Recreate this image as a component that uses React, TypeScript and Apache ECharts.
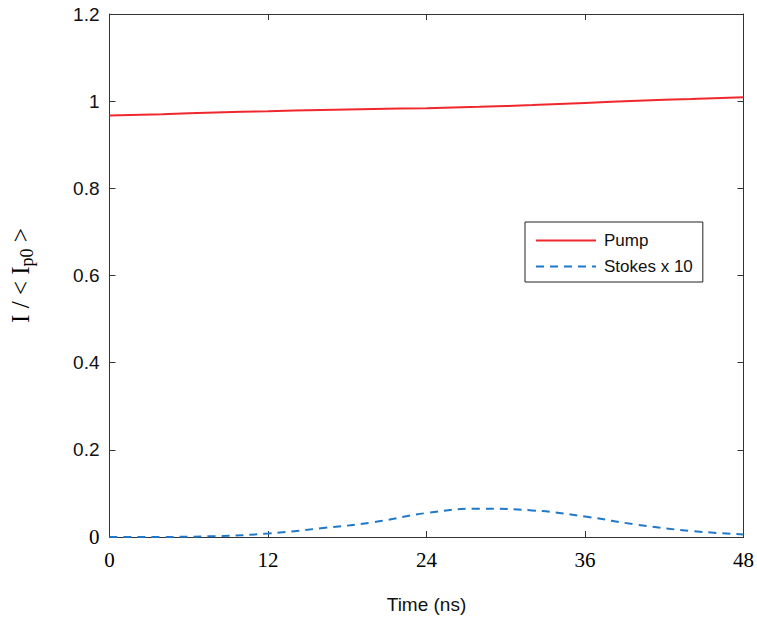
import React, { useEffect, useRef } from "react";
import * as echarts from "echarts";

const timeNs = [0, 4, 8, 12, 16, 20, 24, 28, 32, 36, 40, 44, 48];
const pump = [0.967, 0.970, 0.974, 0.977, 0.980, 0.982, 0.984, 0.987, 0.991, 0.996, 1.001, 1.005, 1.009];
const stokesX10 = [0, 0.0002, 0.002, 0.008, 0.02, 0.034, 0.055, 0.065, 0.061, 0.047, 0.028, 0.014, 0.006];
const yTicks = [0, 0.2, 0.4, 0.6, 0.8, 1, 1.2];

export default function App() {
  const ref = useRef<HTMLDivElement>(null);
  useEffect(() => {
    if (!ref.current) return;
    const chart = echarts.init(ref.current, null, { renderer: "svg" });
    const axisLine = () => ({ show: true, onZero: false, lineStyle: { color: "#333", width: 1 } });
    const axisTick = () => ({ show: true, inside: true, length: 6, lineStyle: { color: "#333", width: 1 } });
    chart.setOption({
      animation: false,
      backgroundColor: "#fff",
      grid: { left: 107, right: 9, top: 14, bottom: 85, containLabel: false },
      legend: {
        orient: "vertical",
        left: 525,
        top: 222,
        padding: [10, 10, 7, 10],
        itemGap: 9,
        itemWidth: 60,
        itemHeight: 16,
        borderColor: "#222",
        borderWidth: 1,
        backgroundColor: "#fff",
        itemStyle: { opacity: 0 },
        textStyle: { fontFamily: "Liberation Sans", fontSize: 17, color: "#111", padding: [0, 0, 0, 3] },
        data: ["Pump", "Stokes x 10"],
      },
      xAxis: [
        {
          type: "value",
          min: 0,
          max: 48,
          interval: 12,
          axisLine: axisLine(),
          axisTick: axisTick(),
          splitLine: { show: false },
          axisLabel: {
            margin: 12,
            fontFamily: "Liberation Serif",
            fontSize: 21,
            color: "#000",
          },
          name: "Time (ns)",
          nameLocation: "middle",
          nameGap: 58,
          nameTextStyle: { fontFamily: "Liberation Sans", fontSize: 19, color: "#111" },
        },
        {
          type: "value",
          position: "top",
          min: 0,
          max: 48,
          interval: 12,
          axisLine: axisLine(),
          axisTick: axisTick(),
          axisLabel: { show: false },
          splitLine: { show: false },
        },
      ],
      yAxis: [
        {
          type: "value",
          min: 0,
          max: 1.2,
          interval: 0.2,
          axisLine: axisLine(),
          axisTick: axisTick(),
          splitLine: { show: false },
          axisLabel: {
            margin: 10,
            fontFamily: "Liberation Sans",
            fontSize: 19,
            color: "#111",
            formatter: (v: number) => {
              const t = yTicks.find((y) => Math.abs(y - v) < 1e-6);
              if (t === undefined) return "";
              return t === 0 ? "{s|0}" : String(t);
            },
            rich: { s: { fontFamily: "Liberation Serif", fontSize: 21, color: "#000" } },
          },
          name: "{a|I / < I}{b|p0}{a| >}",
          nameLocation: "middle",
          nameGap: 74,
          nameTextStyle: {
            rich: {
              a: { fontFamily: "Liberation Serif", fontSize: 25, color: "#000" },
              b: { fontFamily: "Liberation Serif", fontSize: 18, color: "#000", padding: [12, 0, 0, 0] },
            },
          },
        },
        {
          type: "value",
          position: "right",
          min: 0,
          max: 1.2,
          interval: 0.2,
          axisLine: axisLine(),
          axisTick: axisTick(),
          axisLabel: { show: false },
          splitLine: { show: false },
        },
      ],
      series: [
        {
          name: "Pump",
          type: "line",
          data: timeNs.map((t, i) => [t, pump[i]]),
          smooth: true,
          showSymbol: false,
          symbol: "none",
          lineStyle: { color: "#f0282d", width: 2 },
          itemStyle: { color: "#f0282d" },
        },
        {
          name: "Stokes x 10",
          type: "line",
          data: timeNs.map((t, i) => [t, stokesX10[i]]),
          smooth: true,
          showSymbol: false,
          symbol: "none",
          lineStyle: { color: "#1f78c8", width: 2, type: [8, 6] },
          itemStyle: { color: "#1f78c8" },
        },
      ],
    });
    return () => chart.dispose();
  }, []);
  return (
    <div
      ref={ref}
      style={{ position: "absolute", left: 0, top: 0, width: 757, height: 622 }}
    />
  );
}
